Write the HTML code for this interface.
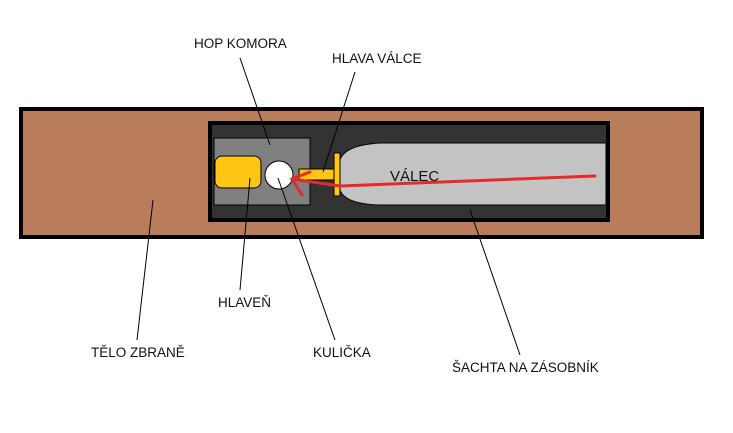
<!DOCTYPE html><html><head><style>body{margin:0;background:#fff}svg text{font-family:"Liberation Sans",sans-serif;font-size:13.5px;fill:#111}</style></head><body>
<svg width="733" height="428" xmlns="http://www.w3.org/2000/svg">
<rect x="21" y="109" width="681" height="128" fill="#b97d5b" stroke="#000" stroke-width="4"/>
<rect x="210" y="123" width="398" height="97" fill="#333" stroke="#000" stroke-width="4"/>
<rect x="214" y="138" width="96" height="67" fill="#808080" stroke="#000" stroke-width="1"/>
<rect x="215" y="156" width="46" height="32" rx="7" fill="#fec515" stroke="#000" stroke-width="1"/>
<circle cx="279" cy="175" r="14" fill="#fff" stroke="#000" stroke-width="1"/>
<path d="M606 143 H380 Q345 145 340 160 V190 Q345 204 380 205 H606 Z" fill="#c3c3c3" stroke="#000" stroke-width="1"/>
<rect x="299" y="169" width="37" height="11" fill="#fec515" stroke="#000" stroke-width="1"/>
<rect x="334" y="153" width="6" height="43" fill="#fec515" stroke="#000" stroke-width="1"/>
<g stroke="#e32b2b" stroke-width="3" fill="none" stroke-linecap="round">
<path d="M595 176 L340 186 L292 179"/><path d="M310 172 L292 179 L302 195"/></g>
<g stroke="#000" stroke-width="1">
<line x1="240" y1="58" x2="270" y2="145"/><line x1="355" y1="72" x2="323" y2="172"/>
<line x1="250" y1="178" x2="240" y2="290"/><line x1="278" y1="178" x2="335" y2="340"/>
<line x1="153" y1="200" x2="137" y2="340"/><line x1="470" y1="210" x2="520" y2="355"/></g>
<text x="194" y="48">HOP KOMORA</text>
<text x="332" y="63">HLAVA VÁLCE</text>
<text x="390" y="181" style="font-size:15px">VÁLEC</text>
<text x="218" y="307">HLAVEŇ</text>
<text x="313" y="357">KULIČKA</text>
<text x="91" y="357">TĚLO ZBRANĚ</text>
<text x="452" y="372">ŠACHTA NA ZÁSOBNÍK</text>
</svg></body></html>
